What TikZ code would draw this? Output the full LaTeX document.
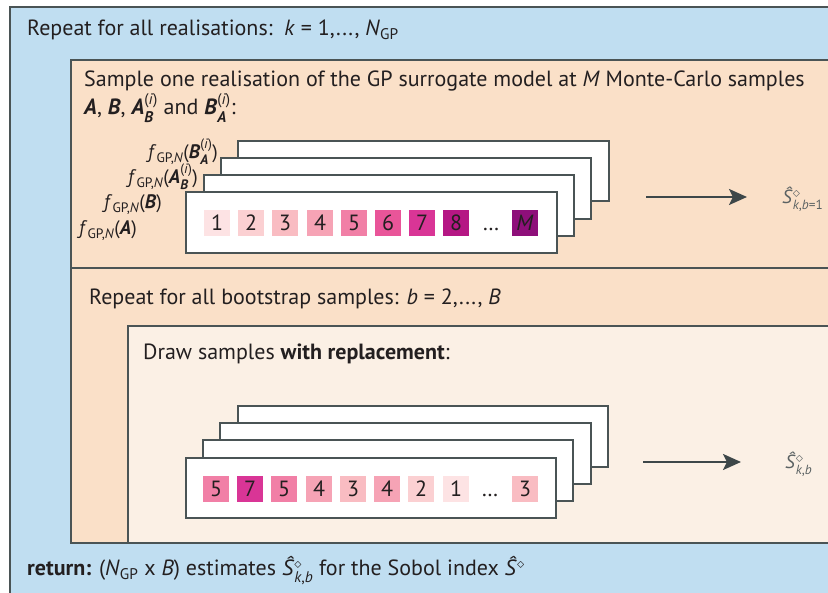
\documentclass[tikz,border=0pt]{standalone}
\usepackage{fontspec}
\usepackage{amsmath}
\setmainfont{PT Sans}
\usetikzlibrary{arrows.meta}
\definecolor{bluebg}{HTML}{C0DEF1}
\definecolor{peach}{HTML}{FAE0C8}
\definecolor{cream}{HTML}{FBF0E5}
\definecolor{bord}{HTML}{4A5455}
\definecolor{arrowc}{HTML}{3D4749}
\definecolor{graytxt}{HTML}{5B6263}
\definecolor{txt}{HTML}{231F20}
\definecolor{q1}{HTML}{FDE3E4}
\definecolor{q2}{HTML}{FBD0D2}
\definecolor{q3}{HTML}{F9BCC2}
\definecolor{q4}{HTML}{F6A3B5}
\definecolor{q5}{HTML}{F17FA6}
\definecolor{q6}{HTML}{E95599}
\definecolor{q7}{HTML}{D93596}
\definecolor{q8}{HTML}{B51784}
\definecolor{qM}{HTML}{8E0F7A}
\newcommand{\bi}[1]{\textbf{\textit{#1}}}
\newcommand{\mysz}{\fontsize{22}{26}\selectfont}
\newcommand{\flsz}{\fontsize{19.5}{23}\selectfont}
\begin{document}
\begin{tikzpicture}[x=1pt,y=-1pt,
  panel/.style={draw=bord, line width=2pt},
  card/.style={draw=bord, line width=1.8pt, fill=white},
  sq/.style={minimum size=26pt, inner sep=0pt, text height=15.5pt, text depth=0pt, font=\fontsize{22}{22}\selectfont, text=txt},
  lbl/.style={anchor=base west, inner sep=0pt, font=\mysz, text=txt},
  flab/.style={anchor=base west, inner sep=0pt, font=\flsz, text=txt},
  arr/.style={draw=arrowc, line width=2.5pt, -{Stealth[length=18pt,width=16pt,inset=4pt]}},
  slab/.style={anchor=west, inner sep=0pt, text=graytxt, font=\fontsize{19}{21}\selectfont}]
\useasboundingbox (0,0) rectangle (828,593);
\begin{scope}
  \clip (0,0) rectangle (828,593);
  \fill[white] (0,0) rectangle (828,593);
  \draw[panel, fill=bluebg] (10,7) rectangle (850,620);
  \draw[panel, fill=peach] (71,60) rectangle (850,268);
  \draw[panel, fill=peach] (71,268) rectangle (850,543);
  \draw[panel, fill=cream] (128,326) rectangle (850,543);
\end{scope}

% texts
\node[lbl] (t1) at (27,36) {Repeat for all realisations:\ \ \textit{k} = 1,..., \textit{N}$_{\text{GP}}$};
\node[lbl] (t2) at (84,87) {Sample one realisation of the GP surrogate model at \textit{M} Monte-Carlo samples};
\node[lbl] (t3) at (84,115) {\bi{A}, \bi{B}, \bi{A}$^{\text{(\textit{i})}}_{\text{\bi{B}}}$ and \bi{B}$^{\text{(\textit{i})}}_{\text{\bi{A}}}$:};
\node[lbl] (t4) at (89,305) {Repeat for all bootstrap samples: \textit{b} = 2,..., \textit{B}};
\node[lbl] (t5) at (143,360) {Draw samples \textbf{with replacement}:};
\node[lbl] (t6) at (27,576) {\textbf{return:} (\textit{N}$_{\text{GP}}$ x \textit{B}) estimates \textit{Ŝ}$^{\diamond}_{\text{\textit{k},\textit{b}}}$ for the Sobol index \textit{Ŝ}$^{\diamond}$};

% first stack
\draw[card] (238,141) rectangle (609,201);
\draw[card] (221,158) rectangle (591,219);
\draw[card] (204,175) rectangle (574,236);
\draw[card] (186,192) rectangle (557,253);
\node[flab] (f1) at (148,159) {\textit{f}$_{\text{GP,\textit{N}}}$(\bi{B}$^{\text{(\textit{i})}}_{\text{\bi{A}}}$)};
\node[flab] (f2) at (128,184) {\textit{f}$_{\text{GP,\textit{N}}}$(\bi{A}$^{\text{(\textit{i})}}_{\text{\bi{B}}}$)};
\node[flab] (f3) at (104,209) {\textit{f}$_{\text{GP,\textit{N}}}$(\bi{B})};
\node[flab] (f4) at (79,235) {\textit{f}$_{\text{GP,\textit{N}}}$(\bi{A})};

\node[sq, fill=q1] (p1) at (217,223) {1};
\node[sq, fill=q2] (p2) at (251,223) {2};
\node[sq, fill=q3] (p3) at (285,223) {3};
\node[sq, fill=q4] (p4) at (320,223) {4};
\node[sq, fill=q5] (p5) at (354,223) {5};
\node[sq, fill=q6] (p6) at (388,223) {6};
\node[sq, fill=q7] (p7) at (422,223) {7};
\node[sq, fill=q8] (p8) at (456,223) {8};
\node[sq] (pd) at (491,223) {…};
\node[sq, fill=qM] (pM) at (525,223) {\textit{M}};

\coordinate (a1) at (646,197);
\node[slab] (s1) at (782,199) {\textit{Ŝ}$^{\diamond}_{\text{\textit{k},\textit{b}=1}}$};
\draw[arr, shorten >=35pt] (a1) -- (a1 -| s1.west);

% second stack
\draw[card] (238,406) rectangle (608,467);
\draw[card] (220,423) rectangle (591,484);
\draw[card] (203,440) rectangle (573,501);
\draw[card] (186,458) rectangle (556,518);

\node[sq, fill=q5] (r1) at (216,489) {5};
\node[sq, fill=q7] (r2) at (250,489) {7};
\node[sq, fill=q5] (r3) at (284,489) {5};
\node[sq, fill=q4] (r4) at (319,489) {4};
\node[sq, fill=q3] (r5) at (353,489) {3};
\node[sq, fill=q4] (r6) at (387,489) {4};
\node[sq, fill=q2] (r7) at (421,489) {2};
\node[sq, fill=q1] (r8) at (456,489) {1};
\node[sq] (rd) at (490,489) {…};
\node[sq, fill=q3] (r9) at (525,489) {3};

\coordinate (a2) at (643,462);
\node[slab] (s2) at (785,464) {\textit{Ŝ}$^{\diamond}_{\text{\textit{k},\textit{b}}}$};
\draw[arr, shorten >=44pt] (a2) -- (a2 -| s2.west);
\end{tikzpicture}
\end{document}
